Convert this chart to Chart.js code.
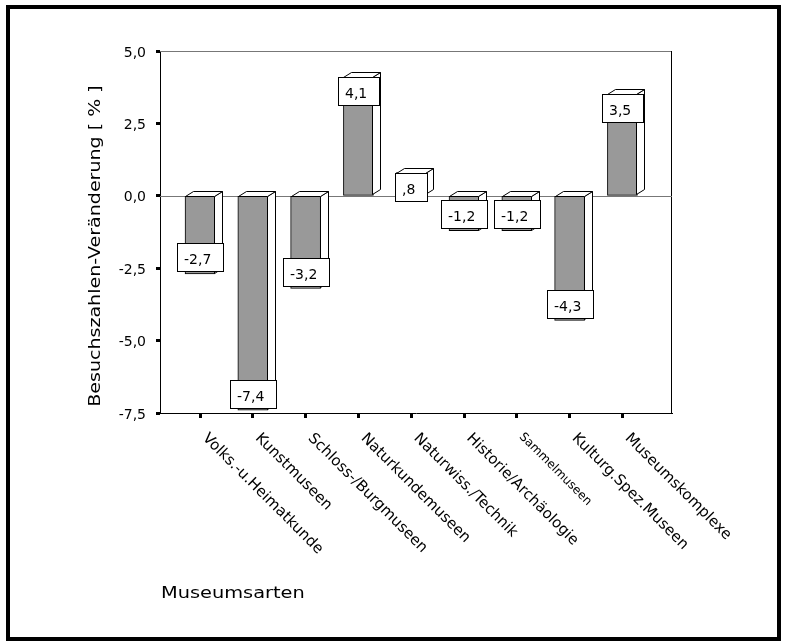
<!DOCTYPE html>
<html>
<head>
<meta charset="utf-8">
<script src="https://cdn.jsdelivr.net/npm/chart.js@4.4.1/dist/chart.umd.min.js"></script>
<style>
  body { margin: 0; background: #fff; }
  canvas { display: block; }
</style>
</head>
<body>
<canvas id="museumChart" width="790" height="642"></canvas>
<script>
// data
const categories = ['Volks.-u.Heimatkunde', 'Kunstmuseen', 'Schloss-/Burgmuseen', 'Naturkundemuseen',
  'Naturwiss./Technik', 'Historie/Archäologie', 'Sammelmuseen', 'Kulturg.Spez.Museen', 'Museumskomplexe'];
const changes = [-2.7, -7.4, -3.2, 4.1, 0.8, -1.2, -1.2, -4.3, 3.5];
const yTicks = [-7.5, -5, -2.5, 0, 2.5, 5];
const yTitle = 'Besuchszahlen-Veränderung [ % ]';
const xTitle = 'Museumsarten';

// styling
const FONT = '"DejaVu Sans", sans-serif';
const tickFontSizes = [15, 15, 15, 15, 15, 15, 12, 15, 15];
const DX = 8, DY = 5;

// SPSS style number: comma, no leading zero below 1
function fmt(v) {
  let s = Math.abs(v).toFixed(1).replace('.', ',');
  if (Math.abs(v) < 1 && v !== 0) s = s.replace(/^0/, '');
  return (v < 0 ? '-' : '') + s;
}

const spssLook = {
  id: 'spssLook',
  beforeDraw(chart) {
    const ctx = chart.ctx;
    ctx.save();
    ctx.fillStyle = '#fff';
    ctx.fillRect(0, 0, chart.width, chart.height);
    ctx.strokeStyle = '#000';
    ctx.lineWidth = 4;
    ctx.strokeRect(8, 7, 771, 632);
    ctx.restore();
  },
  beforeDatasetsDraw(chart) {
    const { ctx, chartArea: a, scales: { y } } = chart;
    ctx.save();
    ctx.lineWidth = 1;
    // top and right frame of the plot
    ctx.strokeStyle = '#777';
    ctx.beginPath();
    ctx.moveTo(a.left, Math.round(a.top) + 0.5);
    ctx.lineTo(a.right, Math.round(a.top) + 0.5);
    ctx.stroke();
    ctx.strokeStyle = '#000';
    ctx.beginPath();
    ctx.moveTo(Math.round(a.right) - 0.5, a.top);
    ctx.lineTo(Math.round(a.right) - 0.5, a.bottom);
    ctx.stroke();
    // zero line
    const y0 = Math.round(y.getPixelForValue(0)) + 0.5;
    ctx.strokeStyle = '#777';
    ctx.beginPath();
    ctx.moveTo(a.left, y0);
    ctx.lineTo(a.right, y0);
    ctx.stroke();
    ctx.restore();
  },
  afterDatasetsDraw(chart) {
    const ctx = chart.ctx;
    const meta = chart.getDatasetMeta(0);
    ctx.save();
    ctx.lineWidth = 1;
    ctx.strokeStyle = '#000';
    ctx.font = '14px ' + FONT;
    meta.data.forEach((bar, i) => {
      const l = Math.round(bar.x - bar.width / 2) + 0.5;
      const r = Math.round(bar.x + bar.width / 2) - 0.5;
      const t = Math.round(Math.min(bar.y, bar.base)) + 0.5;
      const b = Math.round(Math.max(bar.y, bar.base)) - 0.5;
      ctx.fillStyle = '#fff';
      // side face
      ctx.beginPath();
      ctx.moveTo(r, t);
      ctx.lineTo(r + DX, t - DY);
      ctx.lineTo(r + DX, b - DY);
      ctx.lineTo(r, b);
      ctx.closePath();
      ctx.fill();
      ctx.stroke();
      // top face
      ctx.beginPath();
      ctx.moveTo(l, t);
      ctx.lineTo(l + DX, t - DY);
      ctx.lineTo(r + DX, t - DY);
      ctx.lineTo(r, t);
      ctx.closePath();
      ctx.fill();
      ctx.stroke();

      // value box
      const txt = fmt(changes[i]);
      const w = Math.round(ctx.measureText(txt).width + 20);
      const h = 29;
      const bx = Math.round(bar.x + 0.5 - w / 2);
      const by = changes[i] >= 0 ? Math.round(bar.y) : Math.round(bar.y - 1.5 - h);
      ctx.fillStyle = '#fff';
      ctx.fillRect(bx, by, w, h);
      ctx.strokeRect(bx + 0.5, by + 0.5, w - 1, h - 1);
      ctx.fillStyle = '#000';
      ctx.textAlign = 'left';
      ctx.textBaseline = 'alphabetic';
      ctx.fillText(txt, bx + 7, by + 21);
    });
    ctx.restore();
  },
  afterDraw(chart) {
    const { ctx, chartArea: a, scales: { x } } = chart;
    ctx.save();
    ctx.fillStyle = '#000';
    // rotated category labels, reading downwards to the right
    categories.forEach((c, i) => {
      const f = tickFontSizes[i];
      const px = x.getPixelForValue(i);
      const off = 0.73 * f * Math.SQRT1_2;
      ctx.save();
      ctx.translate(px + 2, a.bottom + 18 + off);
      ctx.rotate(Math.PI / 4);
      ctx.font = f + 'px ' + FONT;
      ctx.textAlign = 'left';
      ctx.textBaseline = 'alphabetic';
      ctx.fillText(c, 0, 0);
      ctx.restore();
    });
    // axis titles (slightly stretched like the original)
    ctx.font = '16px ' + FONT;
    ctx.save();
    ctx.translate(96, 246);
    ctx.rotate(-Math.PI / 2);
    ctx.scale(1.19, 1);
    ctx.textAlign = 'center';
    ctx.textBaseline = 'middle';
    ctx.fillText(yTitle, 0, 0);
    ctx.restore();
    ctx.save();
    ctx.translate(161, 594);
    ctx.scale(1.21, 1);
    ctx.textAlign = 'left';
    ctx.textBaseline = 'middle';
    ctx.fillText(xTitle, 0, 0);
    ctx.restore();
    ctx.restore();
  }
};

new Chart(document.getElementById('museumChart'), {
  type: 'bar',
  data: {
    datasets: [{
      data: changes.map((v, i) => ({ x: i, y: v })),
      backgroundColor: '#999999',
      borderColor: '#000',
      borderWidth: 1,
      borderSkipped: false,
      barThickness: 30
    }]
  },
  options: {
    responsive: false,
    animation: false,
    devicePixelRatio: 1,
    layout: { padding: { top: 51, right: 118, left: 0, bottom: 0 } },
    plugins: { legend: { display: false }, tooltip: { enabled: false } },
    scales: {
      x: {
        type: 'linear',
        min: -0.758,
        max: 8.939,
        offset: false,
        afterBuildTicks: axis => { axis.ticks = categories.map((c, i) => ({ value: i })); },
        afterFit: scale => { scale.height = 229; },
        ticks: { display: false },
        grid: { offset: false, drawOnChartArea: false, tickLength: 5, tickWidth: 3, color: '#000' },
        border: { color: '#000', width: 1 }
      },
      y: {
        min: -7.5,
        max: 5,
        afterBuildTicks: axis => { axis.ticks = yTicks.map(v => ({ value: v })); },
        afterFit: scale => { scale.width = 160; },
        ticks: {
          callback: v => v.toFixed(1).replace('.', ','),
          font: { family: FONT, size: 14 },
          color: '#000',
          padding: 10,
          labelOffset: 2
        },
        grid: { drawOnChartArea: false, tickLength: 4, tickWidth: 3, color: '#000' },
        border: { color: '#000', width: 1 }
      }
    }
  },
  plugins: [spssLook]
});
</script>
</body>
</html>
